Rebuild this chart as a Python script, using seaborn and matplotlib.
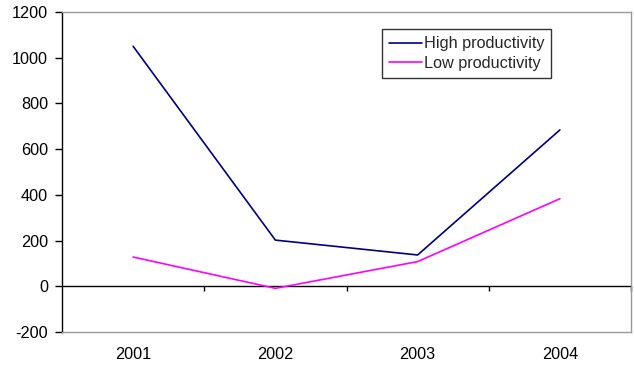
import numpy as np
import pandas as pd
import matplotlib
matplotlib.use("Agg")
import matplotlib.pyplot as plt
import seaborn as sns

# Chart data
years = ["2001", "2002", "2003", "2004"]
high_productivity = [1050, 202, 137, 684]
low_productivity = [128, -9, 108, 383]
series_names = ["High productivity", "Low productivity"]
y_ticks = [-200, 0, 200, 400, 600, 800, 1000, 1200]

sns.set_theme(style="white")
plt.rcParams["font.family"] = ["Liberation Sans", "DejaVu Sans"]
plt.rcParams["axes.unicode_minus"] = False

df = pd.DataFrame({
    "pos": list(range(len(years))) * 2,
    "value": high_productivity + low_productivity,
    "series": [series_names[0]] * len(years) + [series_names[1]] * len(years),
})

fig = plt.figure(figsize=(6.34, 3.71), dpi=100)
ax = fig.add_axes([62 / 634, 1 - 332 / 371, 569 / 634, 320 / 371])

sns.lineplot(data=df, x="pos", y="value", hue="series",
             palette={series_names[0]: "#000080", series_names[1]: "#FF00FF"},
             linewidth=1.2, ax=ax)

ax.set_xlim(-0.5, len(years) - 0.5)
ax.set_ylim(-200, 1200)
ax.set_yticks(y_ticks)
ax.set_xticks(range(len(years)))
ax.set_xticklabels(years)
ax.set_xlabel("")
ax.set_ylabel("")
ax.tick_params(axis="x", length=0, pad=11, labelsize=11.7, colors="black")
ax.tick_params(axis="y", length=5, width=1, direction="out", left=True,
               pad=5, labelsize=11.7, colors="black")

for side in ["top", "right", "bottom"]:
    ax.spines[side].set_color("#999999")
    ax.spines[side].set_linewidth(1)
ax.spines["left"].set_color("black")
ax.spines["left"].set_linewidth(1)

# category axis at zero with tick marks between categories
ax.axhline(0, color="black", linewidth=1, zorder=1)
ax.vlines(np.arange(len(years)) + 0.5, -22, 0, color="black", linewidth=1,
          clip_on=False)

leg = ax.legend(loc="upper left", bbox_to_anchor=(0.562, 0.947),
                borderaxespad=0, frameon=True, fancybox=False,
                fontsize=11.7, handlelength=2.0, handletextpad=0.12,
                borderpad=0.45, labelspacing=0.3)
leg.get_frame().set_edgecolor("black")
leg.get_frame().set_linewidth(1)
leg.set_title(None)

fig.savefig("out.png", dpi=100)
